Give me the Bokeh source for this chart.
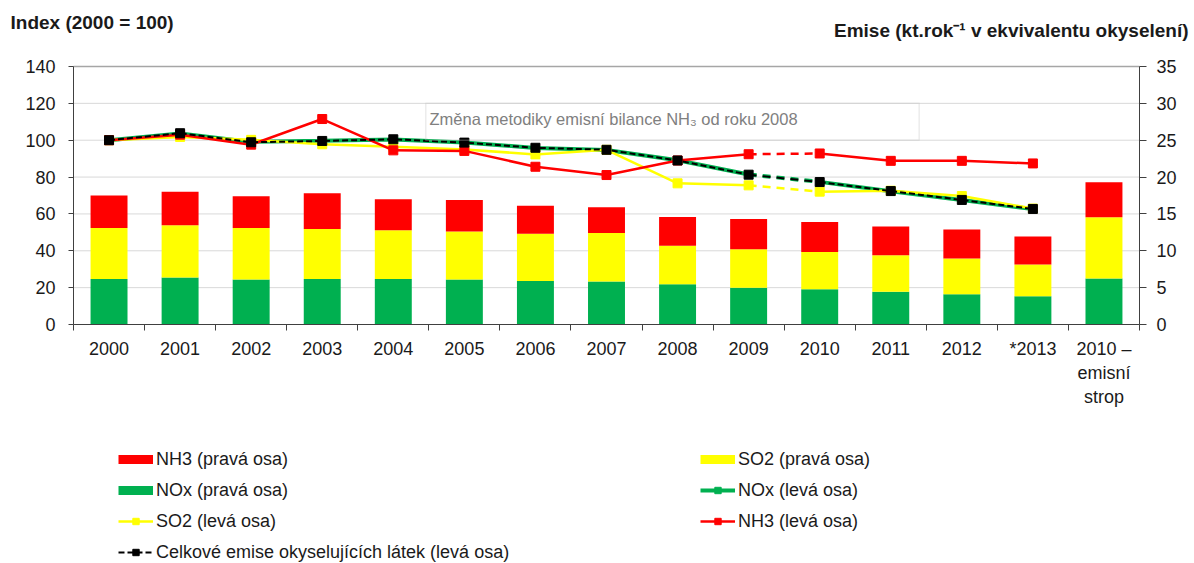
from bokeh.plotting import figure
from bokeh.models import (Range1d, LinearAxis, FixedTicker, ColumnDataSource,
                          Legend, LegendItem, Label, BoxAnnotation)
from bokeh.embed import file_html
from bokeh.resources import INLINE

# ---------------- data ----------------
categories = ["2000", "2001", "2002", "2003", "2004", "2005", "2006", "2007",
              "2008", "2009", "2010", "2011", "2012", "*2013", "2010 –\nemisní\nstrop"]

# stacked bars, right axis (kt/yr acidification equivalent)
bar_nox = [6.18, 6.38, 6.10, 6.18, 6.18, 6.10, 5.90, 5.82, 5.45, 5.00, 4.77, 4.45, 4.09, 3.82, 6.23]
bar_so2 = [6.92, 7.07, 7.00, 6.77, 6.62, 6.50, 6.40, 6.58, 5.25, 5.20, 5.05, 4.95, 4.86, 4.32, 8.32]
bar_nh3 = [4.40, 4.55, 4.30, 4.85, 4.20, 4.30, 3.80, 3.50, 3.90, 4.10, 4.08, 3.90, 3.95, 3.81, 4.75]

# index lines, left axis (2000 = 100), years 2000 .. *2013
idx_total = [100.0, 103.8, 98.9, 99.6, 100.5, 98.7, 95.9, 94.8, 89.0, 81.3, 77.3, 72.4, 67.6, 62.7]
idx_nox = [100.0, 103.6, 99.1, 99.7, 100.4, 98.8, 95.8, 94.7, 89.1, 81.4, 77.4, 72.3, 67.5, 62.6]
idx_so2 = [100.0, 101.8, 100.2, 97.8, 96.4, 95.0, 92.3, 94.8, 76.6, 75.5, 72.1, 72.6, 69.7, 62.9]
idx_nh3 = [100.0, 103.0, 97.6, 111.5, 94.5, 94.2, 85.6, 81.1, 89.0, 92.4, 92.8, 88.8, 88.8, 87.4]

left_ticks = [0, 20, 40, 60, 80, 100, 120, 140]
right_ticks = [0, 5, 10, 15, 20, 25, 30, 35]

# ---------------- styles / layout ----------------
FONT = "Liberation Sans"
GREEN, YELLOW, RED, BLACK = "#00B050", "#FFFF00", "#FF0000", "#000000"
AXIS_COL = "#404040"
TXT = "#1a1a1a"
W, H = 1194, 563
PL, PR, PT, PB = 73, 1139, 66, 324          # plot-area edges in pixels

n = len(categories)
ymax = left_ticks[-1]
rmax = right_ticks[-1]
ux = (PR - PL) / n
uy = (PB - PT) / ymax
x_rng = Range1d(-PL / ux, n + (W - PR) / ux)
y_rng = Range1d(-(H - PB) / uy, ymax + PT / uy)
scale_r = rmax / ymax
r_rng = Range1d(y_rng.start * scale_r, y_rng.end * scale_r)

xc = [i + 0.5 for i in range(n)]          # category centres
xl = xc[:len(idx_total)]                  # line x positions

p = figure(width=W, height=H, output_backend="svg", toolbar_location=None,
           x_range=x_rng, y_range=y_rng, x_axis_type=None, y_axis_type=None,
           min_border=0, background_fill_color="white", border_fill_color="white")
p.outline_line_color = None
p.xgrid.visible = False
p.ygrid.visible = False
p.extra_y_ranges = {"right": r_rng}

# grid lines (behind everything)
p.segment(x0=[0] * (len(left_ticks) - 2), x1=[n] * (len(left_ticks) - 2),
          y0=left_ticks[1:-1], y1=left_ticks[1:-1], line_color="#D9D9D9", line_width=1)
p.segment(x0=[0], x1=[n], y0=[ymax], y1=[ymax], line_color="#A6A6A6", line_width=1.5)

# axes
xa = LinearAxis(fixed_location=0, bounds=(0, n),
                ticker=FixedTicker(ticks=xc, minor_ticks=list(range(n + 1))))
xa.major_label_overrides = {x: c for x, c in zip(xc, categories)}
xa.major_tick_out = 0
xa.major_tick_in = 0
xa.minor_tick_out = 6
xa.minor_tick_in = 0
xa.major_label_standoff = 8

ya = LinearAxis(fixed_location=0, bounds=(0, ymax), ticker=FixedTicker(ticks=left_ticks))
ya.major_tick_out = 5
ya.major_tick_in = 0
ya.minor_tick_out = 0
ya.minor_tick_in = 0
ya.major_label_standoff = 13

ra = LinearAxis(fixed_location=n, bounds=(0, rmax), y_range_name="right",
                ticker=FixedTicker(ticks=right_ticks))
ra.major_tick_out = 7
ra.major_tick_in = 0
ra.minor_tick_out = 0
ra.minor_tick_in = 0
ra.major_label_standoff = 10

for a in [xa, ya, ra]:
    a.axis_line_color = AXIS_COL
    a.major_tick_line_color = AXIS_COL
    a.minor_tick_line_color = AXIS_COL
    a.major_label_text_font = FONT
    a.major_label_text_font_size = "18px"
    a.major_label_text_color = TXT

p.add_layout(xa, "below")
p.add_layout(ya, "left")
p.add_layout(ra, "right")

# ---------------- bars ----------------
src = ColumnDataSource(dict(x=xc, nox=bar_nox, so2=bar_so2, nh3=bar_nh3))
bars = p.vbar_stack(["nox", "so2", "nh3"], x="x", width=0.52, source=src,
                    fill_color=[GREEN, YELLOW, RED], line_color=None,
                    y_range_name="right")

# legend swatches for the bar series (a NaN point draws nothing in the plot)
NAN = float("nan")
sw_nh3 = p.line([NAN], [NAN], line_color=RED, line_width=9)
sw_so2 = p.line([NAN], [NAN], line_color=YELLOW, line_width=9)
sw_nox = p.line([NAN], [NAN], line_color=GREEN, line_width=9)

# ---------------- lines ----------------
def draw_series(vals, color, width, dash, marker_size, dash_gap="8 6"):
    s1 = p.line(xl[0:10], vals[0:10], line_color=color, line_width=width, line_dash=dash)
    p.line(xl[9:11], vals[9:11], line_color=color, line_width=width, line_dash=dash_gap)
    p.line(xl[10:], vals[10:], line_color=color, line_width=width, line_dash=dash)
    m = p.scatter(xl, vals, marker="square", size=marker_size, fill_color=color,
                  line_color=color)
    return s1, m

nox_l, nox_m = draw_series(idx_nox, GREEN, 4, "solid", 7)
so2_l, so2_m = draw_series(idx_so2, YELLOW, 2.5, "solid", 9)
nh3_l, nh3_m = draw_series(idx_nh3, RED, 2.5, "solid", 9)
tot_l, tot_m = draw_series(idx_total, BLACK, 2, "6 3", 9)

# ---------------- annotation box ----------------
box_left, box_right, box_bottom, box_top = 4.957, 11.90, 100, 120
p.add_layout(BoxAnnotation(left=box_left, right=box_right, bottom=box_bottom, top=box_top,
                           fill_alpha=0, line_color="#BFBFBF", line_width=1.5))
p.add_layout(Label(x=5.01, y=111.5, text="Změna metodiky emisní bilance NH₃ od roku 2008",
                   text_font=FONT, text_font_size="16.5px", text_color="#808080",
                   text_baseline="middle", text_align="left"))

# ---------------- titles ----------------
p.add_layout(Label(x=10, y=H - 22, x_units="screen", y_units="screen",
                   text="Index (2000 = 100)", text_font=FONT,
                   text_font_size="19px", text_font_style="bold", text_color=TXT,
                   text_baseline="middle", text_align="left"))
p.add_layout(Label(x=1188, y=H - 30, x_units="screen", y_units="screen",
                   text="Emise (kt.rok⁻¹ v ekvivalentu okyselení)", text_font=FONT,
                   text_font_size="19px", text_font_style="bold", text_color=TXT,
                   text_baseline="middle", text_align="right"))

# ---------------- legends ----------------
def make_legend(items, loc):
    lg = Legend(items=items, location=loc, glyph_width=35, glyph_height=16,
                label_height=22, spacing=9, padding=0, margin=0, label_standoff=3,
                border_line_color=None, background_fill_alpha=0,
                label_text_font=FONT, label_text_font_size="18px",
                label_text_color=TXT)
    p.add_layout(lg, "center")

make_legend([LegendItem(label="NH3 (pravá osa)", renderers=[sw_nh3]),
             LegendItem(label="NOx (pravá osa)", renderers=[sw_nox]),
             LegendItem(label="SO2 (levá osa)", renderers=[so2_l, so2_m]),
             LegendItem(label="Celkové emise okyselujících látek (levá osa)",
                        renderers=[tot_l, tot_m])],
            (118, 0))
make_legend([LegendItem(label="SO2 (pravá osa)", renderers=[sw_so2]),
             LegendItem(label="NOx (levá osa)", renderers=[nox_l, nox_m]),
             LegendItem(label="NH3 (levá osa)", renderers=[nh3_l, nh3_m])],
            (700, 31))

open("out.html", "w").write(file_html(p, INLINE))
